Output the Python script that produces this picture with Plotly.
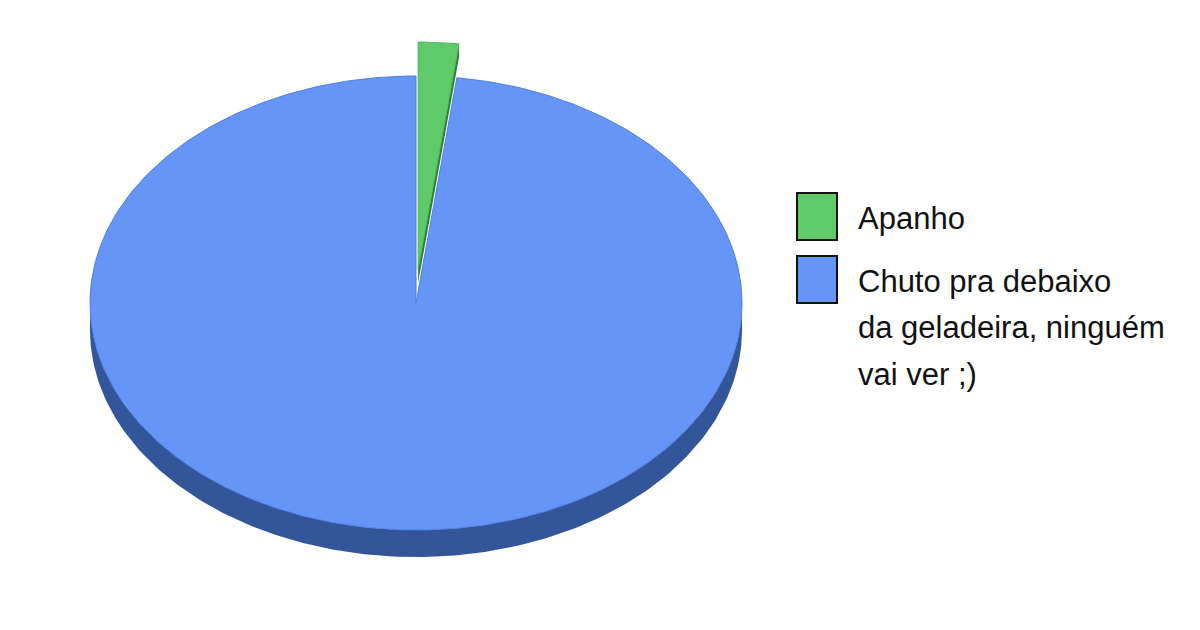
import numpy as np
import plotly.graph_objects as go

# data
labels = ["Apanho", "Chuto pra debaixo<br>da geladeira, ninguém<br>vai ver ;)"]
values = [2, 98]
top_colors = ["#5fca69", "#6595f6"]
side_colors = ["#2e7d36", "#33569b"]
explode = [34, 0]

# geometry of the "3d" pie, in pixels (axes are set 1:1 with the page)
cx, cy, rx, ry, depth = 416, 303, 326, 227, 27

fracs = np.array(values, dtype=float) / sum(values)
starts = np.pi / 2 - 2 * np.pi * np.concatenate([[0], np.cumsum(fracs)[:-1]])
ends = starts - 2 * np.pi * fracs

fig = go.Figure()


def pt(t, ox=0, oy=0):
    return cx + ox + rx * np.cos(t), cy + oy - ry * np.sin(t)


def add_poly(xs, ys, fill, line=None, width=0):
    fig.add_trace(go.Scatter(
        x=list(xs), y=list(ys), mode="lines", fill="toself", fillcolor=fill,
        line=dict(color=line or fill, width=width), hoverinfo="skip", showlegend=False))


slices = []
for i in range(len(values)):
    tm = (starts[i] + ends[i]) / 2
    ox, oy = explode[i] * np.cos(tm), -explode[i] * np.sin(tm)
    t = np.linspace(starts[i], ends[i], max(8, int(400 * fracs[i])))
    slices.append((t, ox, oy))

# 1. curved sides (only lower half is visible)
for i, (t, ox, oy) in enumerate(slices):
    m = np.sin(t) <= 0
    if m.sum() < 2:
        continue
    x, y = pt(t[m], ox, oy)
    add_poly(np.r_[x, x[::-1]], np.r_[y, (y + depth)[::-1]], side_colors[i])

# 2. top faces, exploded slices last with their visible radial side
order = sorted(range(len(values)), key=lambda k: explode[k])
for i in order:
    t, ox, oy = slices[i]
    if explode[i]:
        ex, ey = pt(t[-1], ox, oy)
        d = depth * 0.5
        add_poly([cx + ox, ex, ex, cx + ox], [cy + oy, ey, ey + d, cy + oy + d],
                 side_colors[i])
    x, y = pt(t, ox, oy)
    add_poly(np.r_[cx + ox, x, cx + ox], np.r_[cy + oy, y, cy + oy], top_colors[i],
             line="#4f7fe0" if i == 1 else "#4fb85a", width=1)

# legend drawn by hand
box_y = [193, 256]
for i, lab in enumerate(labels):
    fig.add_shape(type="rect", x0=797, x1=837, y0=box_y[i], y1=box_y[i] + 47,
                  fillcolor=top_colors[i], line=dict(color="#111111", width=2))
    for j, line in enumerate(lab.split("<br>")):
        fig.add_annotation(x=856, y=box_y[i] + 25 + j * 46.5, text=line, showarrow=False,
                           xanchor="left", yanchor="middle",
                           font=dict(family="Liberation Sans, Arial", size=31, color="#111111"))

# the page body adds an 8px offset, so shift the ranges to keep 1 unit = 1 screen px
fig.update_layout(
    width=1200, height=630, margin=dict(l=0, r=0, t=0, b=0),
    paper_bgcolor="white", plot_bgcolor="white", showlegend=False,
    xaxis=dict(range=[8, 1208], visible=False, fixedrange=True),
    yaxis=dict(range=[638, 8], visible=False, fixedrange=True),
)

fig.write_html("out.html")
